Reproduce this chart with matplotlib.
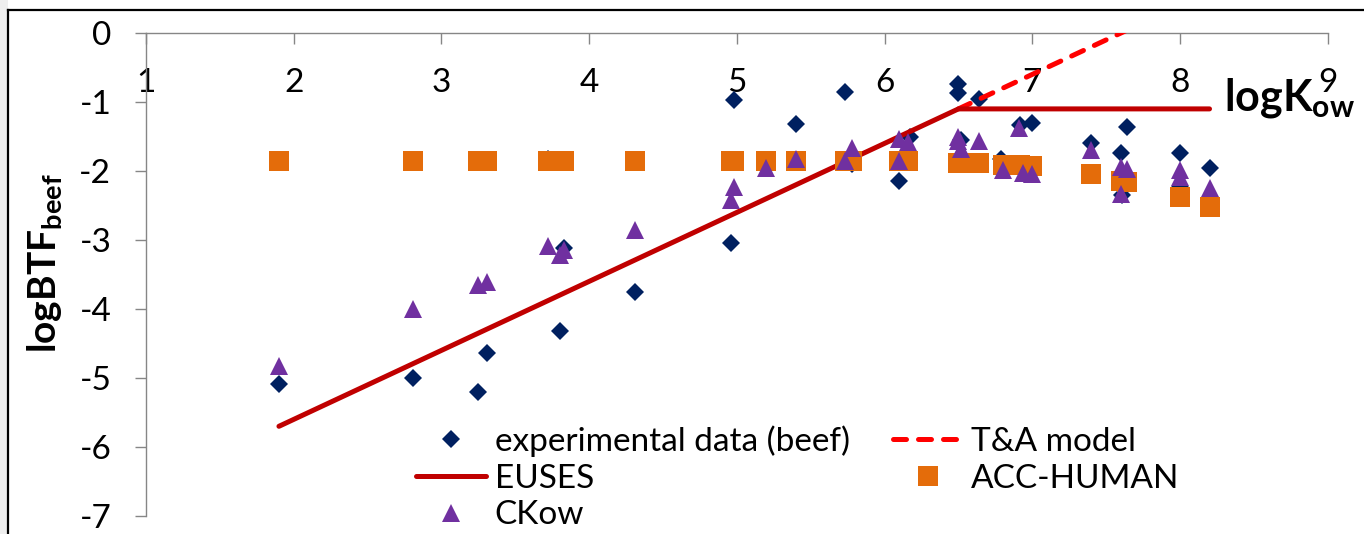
import matplotlib
matplotlib.use('Agg')
import matplotlib.pyplot as plt
from matplotlib.lines import Line2D
from matplotlib.patches import Rectangle

plt.rcParams['font.family'] = ['Lato', 'DejaVu Sans']
plt.rcParams['mathtext.fontset'] = 'custom'
plt.rcParams['mathtext.rm'] = 'Lato'
plt.rcParams['mathtext.bf'] = 'Lato:bold'

# ---------------- data ----------------
exp_x = [1.90, 2.81, 3.25, 3.31, 3.72, 3.80, 3.83, 4.31, 4.96, 4.98, 5.40, 5.73, 5.78,
         6.10, 6.17, 6.50, 6.50, 6.52, 6.64, 6.79, 6.92, 7.00, 7.40, 7.60, 7.61, 7.64,
         8.00, 8.00, 8.20]
exp_y = [-5.09, -5.00, -5.21, -4.64, -1.82, -4.32, -3.12, -3.76, -3.04, -0.97, -1.32, -0.86, -1.90,
         -2.14, -1.50, -0.74, -0.87, -1.55, -0.96, -1.83, -1.33, -1.31, -1.60, -1.74, -2.35, -1.36,
         -1.74, -2.23, -1.96]

ckow_x = [1.90, 2.81, 3.25, 3.31, 3.72, 3.80, 3.83, 4.31, 4.96, 4.98, 5.20, 5.40, 5.73, 5.78,
          6.10, 6.10, 6.16, 6.50, 6.50, 6.52, 6.64, 6.80, 6.91, 6.94, 7.00, 7.40, 7.60, 7.60,
          7.64, 8.00, 8.00, 8.20]
ckow_y = [-4.82, -4.00, -3.65, -3.61, -3.08, -3.22, -3.14, -2.85, -2.42, -2.23, -1.96, -1.83, -1.86, -1.66,
          -1.53, -1.85, -1.58, -1.51, -1.57, -1.68, -1.57, -1.99, -1.37, -2.03, -2.04, -1.69, -1.94, -2.33,
          -1.97, -1.98, -2.09, -2.25]

acc_x = [1.90, 2.81, 3.25, 3.31, 3.72, 3.83, 4.31, 4.96, 4.98, 5.20, 5.40, 5.73, 5.78,
         6.10, 6.16, 6.50, 6.52, 6.64, 6.80, 6.92, 7.00, 7.40, 7.60, 7.64, 8.00, 8.20]
acc_y = [-1.86, -1.85, -1.85, -1.85, -1.85, -1.85, -1.85, -1.85, -1.85, -1.85, -1.85, -1.85, -1.85,
         -1.86, -1.86, -1.88, -1.88, -1.89, -1.91, -1.92, -1.93, -2.05, -2.14, -2.16, -2.38, -2.52]

euses_x = [1.9, 6.5, 8.2]
euses_y = [-5.7, -1.1, -1.1]
ta_x = [6.5, 8.2]
ta_y = [-1.1, 0.6]

x_ticks = [1, 2, 3, 4, 5, 6, 7, 8, 9]
y_ticks = [-7, -6, -5, -4, -3, -2, -1, 0]

labels = ['experimental data (beef)', 'T&A model', 'EUSES', 'ACC-HUMAN', 'CKow']

# ---------------- figure ----------------
W, H = 1364, 534
fig = plt.figure(figsize=(W / 100, H / 100), dpi=100)
fig.patch.set_facecolor('white')

# outer chart frame (cropped)
fig.add_artist(Rectangle((0, 0), 8 / W, 1, transform=fig.transFigure,
                         facecolor='#eeeeee', edgecolor='none', zorder=0))
fig.add_artist(Line2D([8 / W, 8 / W], [0, 1 - 10 / H], transform=fig.transFigure,
                      color='black', lw=1.6))
fig.add_artist(Line2D([8 / W, 1], [1 - 10 / H, 1 - 10 / H], transform=fig.transFigure,
                      color='black', lw=1.6))

ax = fig.add_axes([146 / W, (H - 516) / H, (1327.7 - 146) / W, (516 - 33) / H])
ax.set_xlim(1, 9)
ax.set_ylim(-7, 0)
ax.set_facecolor('none')

axis_col = '#868686'
for s in ['top', 'right']:
    ax.spines[s].set_visible(False)
ax.spines['bottom'].set_position(('data', 0))
ax.spines['bottom'].set_color(axis_col)
ax.spines['left'].set_color(axis_col)
ax.spines['bottom'].set_linewidth(1.0)
ax.spines['left'].set_linewidth(1.0)

ax.set_xticks(x_ticks)
ax.set_yticks(y_ticks)
ax.set_xticklabels([str(v) for v in x_ticks])
ax.set_yticklabels([str(v) for v in y_ticks])
ax.tick_params(axis='x', direction='out', length=8, width=1.0, color=axis_col,
               pad=17, labelsize=24)
ax.tick_params(axis='y', direction='out', length=8, width=1.0, color=axis_col,
               pad=17, labelsize=24)

h_exp, = ax.plot(exp_x, exp_y, linestyle='none', marker='D', ms=8.9, mew=0,
                 color='#002060', zorder=2, label=labels[0])
h_ta, = ax.plot(ta_x, ta_y, linestyle=(0, (2.6, 2.4)), lw=3.6, color='#FF0000',
                dash_capstyle='round', zorder=3, label=labels[1])
h_eu, = ax.plot(euses_x, euses_y, linestyle='-', lw=3.6, color='#C00000',
                solid_capstyle='round', zorder=3, label=labels[2])
h_acc, = ax.plot(acc_x, acc_y, linestyle='none', marker='s', ms=13.7, mew=0,
                 color='#E46C0A', zorder=4, label=labels[3])
h_ck, = ax.plot(ckow_x, ckow_y, linestyle='none', marker='^', ms=12.5, mew=0,
                color='#7030A0', zorder=5, label=labels[4])

leg = fig.legend(handles=[h_exp, h_eu, h_ck, h_ta, h_acc],
                 labels=[labels[0], labels[2], labels[4], labels[1], labels[3]],
                 ncol=2, frameon=False, fontsize=24, loc='center',
                 bbox_to_anchor=(798 / W, 1 - 478 / H),
                 handlelength=2.1, handletextpad=0.25, columnspacing=1.3,
                 labelspacing=0.2, borderpad=0, borderaxespad=0)

ax.text(8.30, -1.12, r'$\mathbf{logK_{ow}}$', fontsize=31, ha='left', va='baseline',
        zorder=6)
fig.text(45 / W, 1 - 263 / H, r'$\mathbf{logBTF_{beef}}$', rotation=90, fontsize=28,
         ha='center', va='center')

fig.savefig('out.png', dpi=100)
